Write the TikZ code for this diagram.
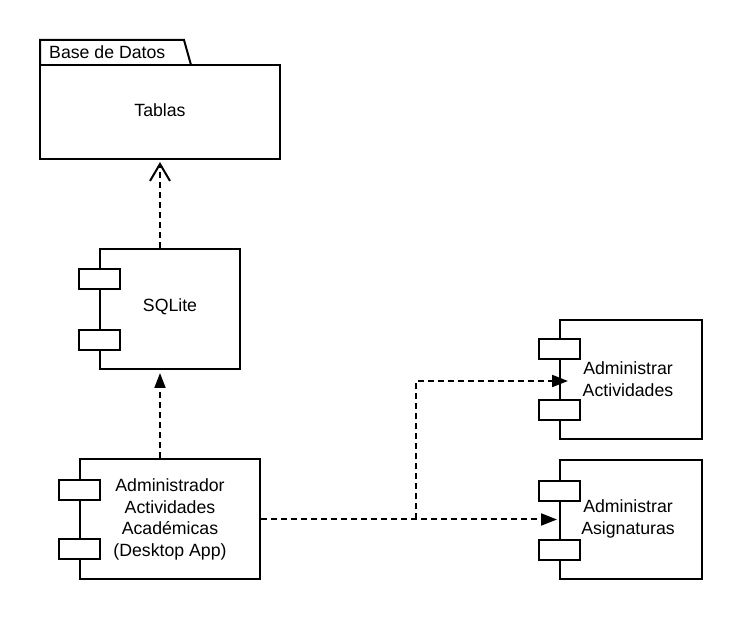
\documentclass[tikz,border=0pt]{standalone}
\usepackage{fontspec}
\setmainfont{Liberation Sans}
\usetikzlibrary{arrows.meta}
\begin{document}
\begin{tikzpicture}[x=1pt,y=-1pt,
  every node/.style={font=\fontsize{17.7}{21.8}\selectfont, inner sep=0pt},
  box/.style={draw, line width=2pt, fill=white},
  port/.style={draw, line width=2pt, fill=white, minimum width=41pt, minimum height=20pt},
  dep/.style={line width=2pt, dash pattern=on 6pt off 4pt},
  txt/.style={align=center}
]
\useasboundingbox (0,0) rectangle (740,620);
% package
\draw[line width=2pt] (40,65) -- (40,40) -- (184,40) -- (191,65);
\node[anchor=west] (pkgname) at (49,52) {Base de Datos};
\node[box, minimum width=240pt, minimum height=94pt] (pkg) at (160,112) {};
\node[txt] (tablas) at (160,110) {Tablas};
% SQLite
\node[box, minimum width=140pt, minimum height=120pt] (sqlite) at (170,309) {};
\node[port] (sqp1) at (99.5,279) {};
\node[port] (sqp2) at (99.5,340) {};
\node[txt] (sqtxt) at (170,307) {SQLite};
% App
\node[box, minimum width=180pt, minimum height=120pt] (app) at (170,519.5) {};
\node[port] (ap1) at (79.5,490) {};
\node[port] (ap2) at (79.5,549) {};
\node[txt] (aptxt) at (170,519.5) {Administrador\\Actividades\\Académicas\\(Desktop App)};
% Administrar Actividades
\node[box, minimum width=142pt, minimum height=119pt] (act) at (631,379.5) {};
\node[port] (acp1) at (559.5,349) {};
\node[port] (acp2) at (559.5,410) {};
\node[txt] (actxt) at (628,379) {Administrar\\Actividades};
% Administrar Asignaturas
\node[box, minimum width=142pt, minimum height=119pt] (asig) at (631,519.5) {};
\node[port] (asp1) at (559.5,491) {};
\node[port] (asp2) at (559.5,550) {};
\node[txt] (astxt) at (628,519) {Administrar\\Asignaturas};
% connectors
\draw[dep, -{Straight Barb[length=17pt,width=20pt,line width=2pt]}, shorten >=2pt] ([xshift=-10]sqlite.north) -- (pkg.south);
\draw[dep, -{Triangle[length=15pt,width=11pt]}, shorten >=3pt] ([xshift=-10]app.north) -- ([xshift=-10]sqlite.south);
\coordinate (junc) at (416,519.5);
\draw[dep, -{Triangle[length=16pt,width=12pt]}, shorten >=2pt] (app.east) -- (asig.west);
\draw[dep, -{Triangle[length=16pt,width=12pt]}] (junc) |- ([shift={(9,1.5)}]act.west);
\end{tikzpicture}
\end{document}
